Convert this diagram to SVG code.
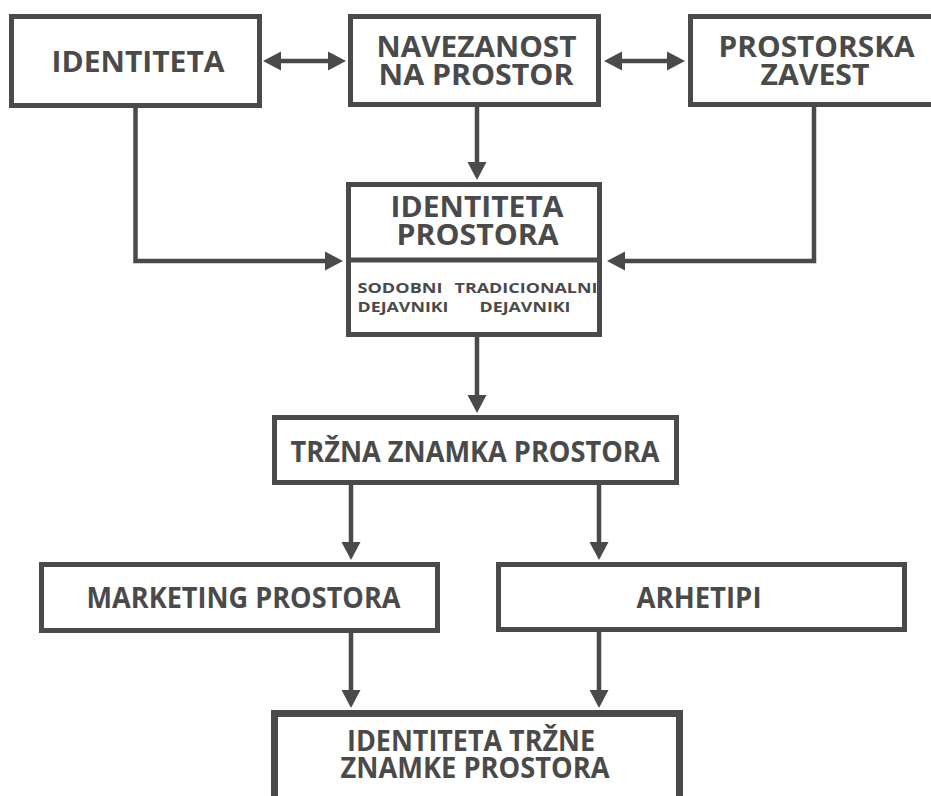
<svg xmlns="http://www.w3.org/2000/svg" width="931" height="796" viewBox="0 0 931 796">
  <style>
    .box { fill: #ffffff; stroke: #4a4a4a; stroke-width: 5; }
    .box-heavy { fill: #ffffff; stroke: #4a4a4a; stroke-width: 7; }
    .edge { fill: none; stroke: #4a4a4a; stroke-width: 4.5; }
    .label { font-family: "Open Sans", "Liberation Sans", sans-serif; font-weight: 700; font-size: 28px; fill: #4a4a4a; text-anchor: middle; }
    .small { font-family: "Open Sans", "Liberation Sans", sans-serif; font-weight: 700; font-size: 15px; fill: #4a4a4a; text-anchor: middle; }
  </style>
  <defs>
    <marker id="arrow" markerUnits="userSpaceOnUse" markerWidth="20" markerHeight="20" refX="2" refY="10" orient="auto-start-reverse" viewBox="0 0 20 20">
      <path d="M0,0.5 L18,10 L0,19.5 z" fill="#4a4a4a"/>
    </marker>
  </defs>

  <rect width="931" height="796" fill="#ffffff"/>

  <!-- connectors -->
  <g id="connectors">
    <path class="edge" d="M279,61 H330" marker-start="url(#arrow)" marker-end="url(#arrow)"/>
    <path class="edge" d="M620,61 H669" marker-start="url(#arrow)" marker-end="url(#arrow)"/>
    <path class="edge" d="M477,107 V164" marker-end="url(#arrow)"/>
    <path class="edge" d="M135.5,106 V261 H327" marker-end="url(#arrow)"/>
    <path class="edge" d="M814,106 V261 H623" marker-end="url(#arrow)"/>
    <path class="edge" d="M477,336 V397" marker-end="url(#arrow)"/>
    <path class="edge" d="M351,484 V544" marker-end="url(#arrow)"/>
    <path class="edge" d="M599,484 V544" marker-end="url(#arrow)"/>
    <path class="edge" d="M351,632 V692" marker-end="url(#arrow)"/>
    <path class="edge" d="M599,631 V692" marker-end="url(#arrow)"/>
  </g>

  <g id="identiteta">
    <rect class="box" x="11.5" y="16.5" width="248" height="89"/>
    <text class="label" x="138" y="72" textLength="173" lengthAdjust="spacingAndGlyphs">IDENTITETA</text>
  </g>

  <g id="navezanost">
    <rect class="box" x="350.5" y="16.5" width="248" height="88"/>
    <text class="label" x="476.5" y="57" textLength="200" lengthAdjust="spacingAndGlyphs">NAVEZANOST</text>
    <text class="label" x="476" y="85" textLength="195" lengthAdjust="spacingAndGlyphs">NA PROSTOR</text>
  </g>

  <g id="prostorska-zavest">
    <rect class="box" x="690.5" y="16.5" width="260" height="88"/>
    <text class="label" x="816.5" y="57" textLength="196" lengthAdjust="spacingAndGlyphs">PROSTORSKA</text>
    <text class="label" x="815" y="85" textLength="109" lengthAdjust="spacingAndGlyphs">ZAVEST</text>
  </g>

  <g id="identiteta-prostora">
    <rect class="box" x="348.5" y="184.5" width="251" height="150"/>
    <line x1="348.5" y1="260" x2="599.5" y2="260" stroke="#4a4a4a" stroke-width="5"/>
    <text class="label" x="477" y="217" textLength="173" lengthAdjust="spacingAndGlyphs">IDENTITETA</text>
    <text class="label" x="477.5" y="245" textLength="162" lengthAdjust="spacingAndGlyphs">PROSTORA</text>
    <text class="small" x="400" y="293" textLength="85" lengthAdjust="spacingAndGlyphs">SODOBNI</text>
    <text class="small" x="403" y="312" textLength="91" lengthAdjust="spacingAndGlyphs">DEJAVNIKI</text>
    <text class="small" x="526" y="293" textLength="143" lengthAdjust="spacingAndGlyphs">TRADICIONALNI</text>
    <text class="small" x="525" y="312" textLength="91" lengthAdjust="spacingAndGlyphs">DEJAVNIKI</text>
  </g>

  <g id="trzna-znamka">
    <rect class="box" x="274.5" y="417.5" width="402" height="65"/>
    <text class="label" x="475" y="462" textLength="369" lengthAdjust="spacingAndGlyphs">TRŽNA ZNAMKA PROSTORA</text>
  </g>

  <g id="marketing">
    <rect class="box" x="41.5" y="564.5" width="396" height="66"/>
    <text class="label" x="243.5" y="608" textLength="314" lengthAdjust="spacingAndGlyphs">MARKETING PROSTORA</text>
  </g>

  <g id="arhetipi">
    <rect class="box" x="498.5" y="564.5" width="406" height="65"/>
    <text class="label" x="699" y="608" textLength="125" lengthAdjust="spacingAndGlyphs">ARHETIPI</text>
  </g>

  <g id="identiteta-trzne-znamke">
    <rect class="box-heavy" x="274.5" y="713.5" width="405" height="100"/>
    <text class="label" x="471" y="751" textLength="248" lengthAdjust="spacingAndGlyphs">IDENTITETA TRŽNE</text>
    <text class="label" x="475" y="778" textLength="269" lengthAdjust="spacingAndGlyphs">ZNAMKE PROSTORA</text>
  </g>
</svg>
